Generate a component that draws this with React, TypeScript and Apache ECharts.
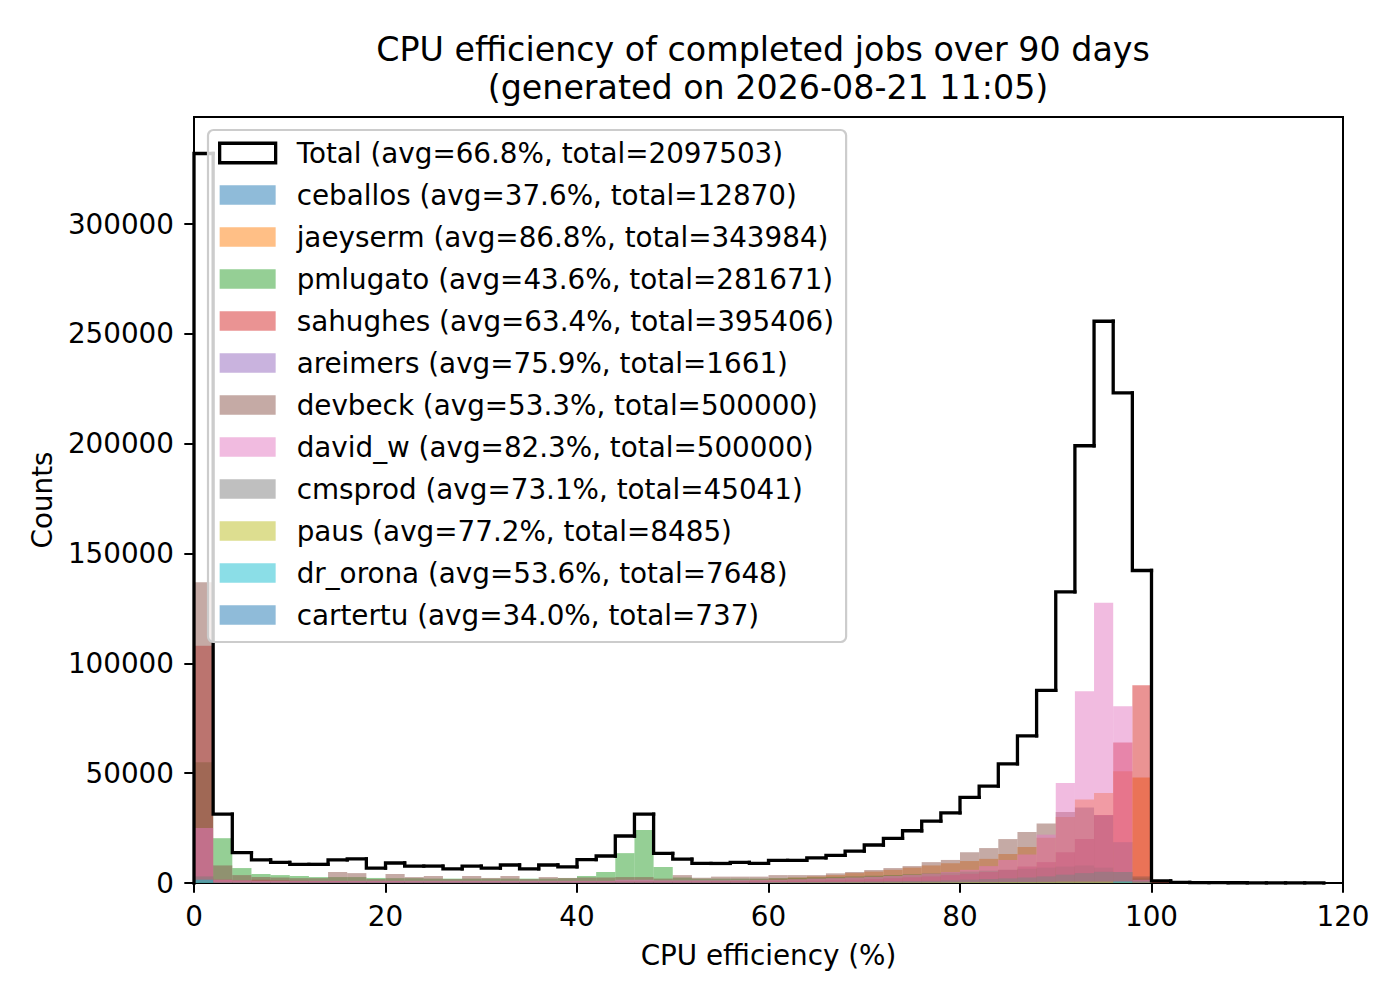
import React, { useEffect, useRef } from "react";
import * as echarts from "echarts";

const FONT = "DejaVu Sans";
const BIN_WIDTH = 2;

const TITLE_LINE_1 = "CPU efficiency of completed jobs over 90 days";
const TITLE_LINE_2 = "(generated on 2026-08-21 11:05)";
const X_NAME = "CPU efficiency (%)";
const Y_NAME = "Counts";

const X_TICKS = [0, 20, 40, 60, 80, 100, 120];
const Y_TICKS = [0, 50000, 100000, 150000, 200000, 250000, 300000];

const TOTAL_AVG = 66.8;
const TOTAL_SUM = 2097503;
const TOTAL_COUNTS = [
  332200, 31400, 13800, 10500, 9400, 8500, 8500, 10500, 11000, 6800,
  9100, 7700, 7700, 6400, 7700, 6800, 8200, 6400, 8200, 7300,
  10600, 12300, 21400, 31400, 13500, 10900, 8900, 8900, 9400, 8900,
  10300, 10300, 11400, 12600, 14500, 17300, 20300, 23800, 28200, 31900,
  39000, 44100, 54200, 67000, 87700, 132600, 199100, 255800, 223200, 142300,
  1000, 300, 200, 150, 120, 100, 80, 60, 50,
];

const USER_NAMES = [
  "ceballos", "jaeyserm", "pmlugato", "sahughes", "areimers", "devbeck",
  "david_w", "cmsprod", "paus", "dr_orona", "cartertu",
];
const USER_AVG = [37.6, 86.8, 43.6, 63.4, 75.9, 53.3, 82.3, 73.1, 77.2, 53.6, 34.0];
const USER_TOTAL = [12870, 343984, 281671, 395406, 1661, 500000, 500000, 45041, 8485, 7648, 737];
const USER_COLORS = [
  "#1f77b4", "#ff7f0e", "#2ca02c", "#d62728", "#9467bd", "#8c564b",
  "#e377c2", "#7f7f7f", "#bcbd22", "#17becf", "#1f77b4",
];

const CEBALLOS = [
  2500, 500, 300, 300, 220, 220, 220, 220, 220, 220,
  220, 220, 220, 220, 220, 220, 220, 220, 220, 220,
  220, 220, 220, 220, 220, 220, 220, 220, 220, 220,
  220, 220, 220, 220, 220, 220, 220, 220, 220, 220,
  220, 220, 220, 220, 220, 100, 100, 100, 100, 100,
  0, 0, 0, 0, 0, 0, 0, 0, 0,
];
const JAEYSERM = [
  3000, 300, 300, 300, 300, 300, 300, 300, 300, 300,
  300, 300, 300, 300, 300, 300, 300, 300, 300, 300,
  300, 300, 300, 300, 300, 400, 500, 700, 1000, 1500,
  2000, 2500, 3000, 3600, 4500, 5200, 6000, 7000, 8000, 9000,
  10000, 11000, 13200, 16400, 20600, 30000, 38000, 41000, 50900, 48000,
  300, 0, 0, 0, 0, 0, 0, 0, 0,
];
const PMLUGATO = [
  55000, 20400, 6800, 4100, 3600, 3200, 2700, 2700, 2700, 2300,
  2200, 2200, 2000, 2000, 2000, 2000, 2000, 2000, 2000, 2200,
  3200, 5000, 13600, 24100, 7300, 2500, 2000, 2000, 2000, 2000,
  2200, 2400, 2600, 2800, 3000, 3300, 3600, 4000, 4400, 4800,
  5200, 5600, 6000, 6500, 7000, 7500, 8000, 7000, 5000, 2000,
  100, 0, 0, 0, 0, 0, 0, 0, 0,
];
const SAHUGHES = [
  108000, 1500, 1200, 1500, 1200, 1000, 900, 900, 800, 800,
  800, 700, 700, 700, 700, 700, 700, 700, 700, 700,
  800, 800, 800, 800, 800, 800, 800, 800, 800, 800,
  900, 1000, 1100, 1300, 1500, 1800, 2200, 2600, 3000, 3600,
  4200, 5000, 6000, 7500, 9500, 14000, 20000, 31000, 64000, 90000,
  400, 100, 0, 0, 0, 0, 0, 0, 0,
];
const AREIMERS = [
  0, 0, 0, 0, 0, 0, 0, 0, 0, 0,
  0, 0, 0, 0, 0, 0, 0, 0, 0, 0,
  0, 0, 0, 0, 0, 0, 0, 0, 0, 0,
  80, 80, 80, 80, 80, 80, 80, 80, 80, 80,
  80, 80, 90, 90, 90, 90, 90, 90, 90, 90,
  0, 0, 0, 0, 0, 0, 0, 0, 0,
];
const DEVBECK = [
  137000, 8000, 3600, 2700, 2500, 2200, 2200, 5000, 4500, 1800,
  4100, 2700, 3200, 1800, 3200, 2300, 3200, 1800, 2700, 2300,
  2500, 2500, 2700, 2700, 2000, 3600, 2400, 2900, 2900, 2900,
  3600, 3600, 3600, 4400, 5000, 5900, 6800, 7700, 9500, 10500,
  14000, 15900, 20000, 23200, 27100, 32300, 34400, 30900, 18600, 3000,
  200, 0, 0, 0, 0, 0, 0, 0, 0,
];
const DAVID_W = [
  25000, 1500, 1200, 1000, 1000, 1000, 1000, 1000, 1000, 1000,
  1000, 1000, 1000, 1000, 1000, 1000, 1000, 1000, 1000, 1000,
  1000, 1000, 1500, 1500, 1200, 1200, 1200, 1200, 1300, 1400,
  1500, 1700, 2000, 2200, 2500, 2800, 3200, 3700, 4300, 5000,
  6000, 7700, 10500, 13000, 22000, 45500, 87300, 127600, 80500, 1500,
  100, 0, 0, 0, 0, 0, 0, 0, 0,
];
const CMSPROD = [
  3000, 150, 150, 150, 150, 150, 150, 150, 150, 150,
  150, 150, 150, 150, 150, 150, 150, 150, 150, 150,
  150, 150, 150, 150, 150, 150, 150, 150, 150, 150,
  400, 450, 500, 550, 600, 700, 800, 900, 1000, 1200,
  1500, 1800, 2100, 2500, 3000, 3800, 4500, 5100, 5000, 1000,
  0, 0, 0, 0, 0, 0, 0, 0, 0,
];
const PAUS = [
  500, 30, 30, 30, 30, 30, 30, 30, 30, 30,
  30, 30, 30, 30, 30, 30, 30, 30, 30, 30,
  30, 30, 30, 30, 30, 30, 30, 30, 30, 30,
  150, 150, 200, 200, 250, 250, 300, 300, 350, 350,
  400, 400, 450, 450, 500, 600, 600, 600, 400, 200,
  0, 0, 0, 0, 0, 0, 0, 0, 0,
];
const DR_ORONA = [
  1500, 110, 110, 110, 110, 110, 110, 110, 110, 110,
  110, 110, 110, 110, 110, 110, 110, 110, 110, 110,
  110, 110, 110, 110, 110, 110, 110, 110, 110, 110,
  110, 110, 110, 110, 110, 110, 110, 110, 110, 110,
  110, 110, 110, 110, 110, 110, 110, 110, 700, 110,
  0, 0, 0, 0, 0, 0, 0, 0, 0,
];
const CARTERTU = [
  300, 10, 10, 10, 10, 10, 10, 10, 10, 10,
  10, 10, 10, 10, 10, 10, 10, 10, 10, 10,
  10, 10, 10, 10, 10, 10, 10, 10, 10, 10,
  10, 10, 10, 10, 10, 10, 10, 10, 10, 10,
  10, 0, 0, 0, 0, 0, 0, 0, 0, 0,
  0, 0, 0, 0, 0, 0, 0, 0, 0,
];

const USER_COUNTS = [
  CEBALLOS, JAEYSERM, PMLUGATO, SAHUGHES, AREIMERS, DEVBECK,
  DAVID_W, CMSPROD, PAUS, DR_ORONA, CARTERTU,
];

function rgba(hex: string, a: number) {
  const r = parseInt(hex.slice(1, 3), 16);
  const g = parseInt(hex.slice(3, 5), 16);
  const b = parseInt(hex.slice(5, 7), 16);
  return `rgba(${r},${g},${b},${a})`;
}

const Y_MAX = Math.max(...TOTAL_COUNTS) * 1.05;

function buildOption() {
  const totalLabel = `Total (avg=${TOTAL_AVG.toFixed(1)}%, total=${TOTAL_SUM})`;
  const userLabels = USER_NAMES.map(
    (n, i) => `${n} (avg=${USER_AVG[i].toFixed(1)}%, total=${USER_TOTAL[i]})`
  );

  const userSeries = USER_NAMES.map((_, i) => {
    const fill = rgba(USER_COLORS[i], 0.5);
    return {
      type: "custom",
      name: userLabels[i],
      z: 2,
      itemStyle: { color: fill },
      encode: { x: [0, 1], y: 2 },
      data: USER_COUNTS[i].map((v, k) => [k * BIN_WIDTH, (k + 1) * BIN_WIDTH, v]),
      renderItem: (params: any, api: any) => {
        const x0 = api.value(0);
        const x1 = api.value(1);
        const v = api.value(2);
        if (!v) return { type: "group", children: [] };
        const tl = api.coord([x0, v]);
        const br = api.coord([x1, 0]);
        return {
          type: "rect",
          shape: { x: tl[0], y: tl[1], width: br[0] - tl[0], height: br[1] - tl[1] },
          style: { fill },
        };
      },
    };
  });

  const lastIdx = TOTAL_COUNTS.length - 1;
  const totalSeries = {
    type: "custom",
    name: totalLabel,
    z: 3,
    itemStyle: { color: "#000" },
    encode: { x: [0, 1], y: 2 },
    data: TOTAL_COUNTS.map((v, k) => [
      k * BIN_WIDTH,
      (k + 1) * BIN_WIDTH,
      v,
      k > 0 ? TOTAL_COUNTS[k - 1] : 0,
    ]),
    renderItem: (params: any, api: any) => {
      const x0 = api.value(0);
      const x1 = api.value(1);
      const v = api.value(2);
      const vp = api.value(3);
      const pts = [api.coord([x0, vp]), api.coord([x0, v]), api.coord([x1, v])];
      if (params.dataIndex === lastIdx) pts.push(api.coord([x1, 0]));
      return {
        type: "polyline",
        shape: { points: pts },
        style: { stroke: "#000", lineWidth: 3.3, fill: null, lineCap: "square", lineJoin: "miter" },
      };
    },
  };

  const axisText = { color: "#000", fontSize: 27.8, fontFamily: FONT };

  return {
    animation: false,
    backgroundColor: "#fff",
    textStyle: { fontFamily: FONT },
    graphic: [
      {
        type: "text",
        x: 763,
        y: 49,
        z: 10,
        style: {
          text: TITLE_LINE_1,
          fontSize: 33.3,
          fontFamily: FONT,
          fill: "#000",
          align: "center",
          verticalAlign: "middle",
        },
      },
      {
        type: "text",
        x: 768,
        y: 87,
        z: 10,
        style: {
          text: TITLE_LINE_2,
          fontSize: 33.3,
          fontFamily: FONT,
          fill: "#000",
          align: "center",
          verticalAlign: "middle",
        },
      },
    ],
    grid: {
      left: 194,
      right: 57,
      top: 117,
      bottom: 117,
      show: true,
      borderColor: "#000",
      borderWidth: 2,
      backgroundColor: "transparent",
    },
    legend: {
      orient: "vertical",
      left: 208,
      top: 130,
      z: 20,
      padding: [9, 12, 13, 10],
      itemWidth: 56,
      itemHeight: 19.5,
      itemGap: 14,
      selectedMode: false,
      backgroundColor: "rgba(255,255,255,0.8)",
      borderColor: "#cccccc",
      borderWidth: 2.2,
      borderRadius: 5.6,
      textStyle: { ...axisText, lineHeight: 28, padding: [0, 0, 0, 16] },
      data: [
        {
          name: totalLabel,
          icon: "rect",
          itemStyle: { color: "rgba(0,0,0,0)", borderColor: "#000", borderWidth: 3.3 },
        },
        ...userLabels.map((l, i) => ({
          name: l,
          icon: "rect",
          itemStyle: { color: rgba(USER_COLORS[i], 0.5), borderWidth: 0 },
        })),
      ],
    },
    xAxis: {
      type: "value",
      min: 0,
      max: 120,
      interval: 20,
      name: X_NAME,
      nameLocation: "middle",
      nameGap: 58,
      nameTextStyle: axisText,
      axisLine: { show: true, onZero: false, lineStyle: { color: "#000", width: 2 } },
      axisTick: { show: true, length: 9.7, lineStyle: { color: "#000", width: 2 }, customValues: X_TICKS },
      axisLabel: { ...axisText, margin: 19.5, customValues: X_TICKS, formatter: (v: number) => String(v) },
      splitLine: { show: false },
    },
    yAxis: {
      type: "value",
      min: 0,
      max: Y_MAX,
      interval: 50000,
      name: Y_NAME,
      nameLocation: "middle",
      nameGap: 127,
      nameTextStyle: axisText,
      axisLine: { show: true, onZero: false, lineStyle: { color: "#000", width: 2 } },
      axisTick: { show: true, length: 9.7, lineStyle: { color: "#000", width: 2 }, customValues: Y_TICKS },
      axisLabel: { ...axisText, margin: 20, customValues: Y_TICKS, formatter: (v: number) => String(v) },
      splitLine: { show: false },
    },
    series: [...userSeries, totalSeries],
  };
}

export default function App() {
  const ref = useRef<HTMLDivElement>(null);
  useEffect(() => {
    if (!ref.current) return;
    const chart = echarts.init(ref.current, undefined, { renderer: "svg" });
    chart.setOption(buildOption() as any);
    return () => chart.dispose();
  }, []);
  return (
    <div
      ref={ref}
      style={{ position: "absolute", left: 0, top: 0, width: 1400, height: 1000, background: "#fff" }}
    />
  );
}
